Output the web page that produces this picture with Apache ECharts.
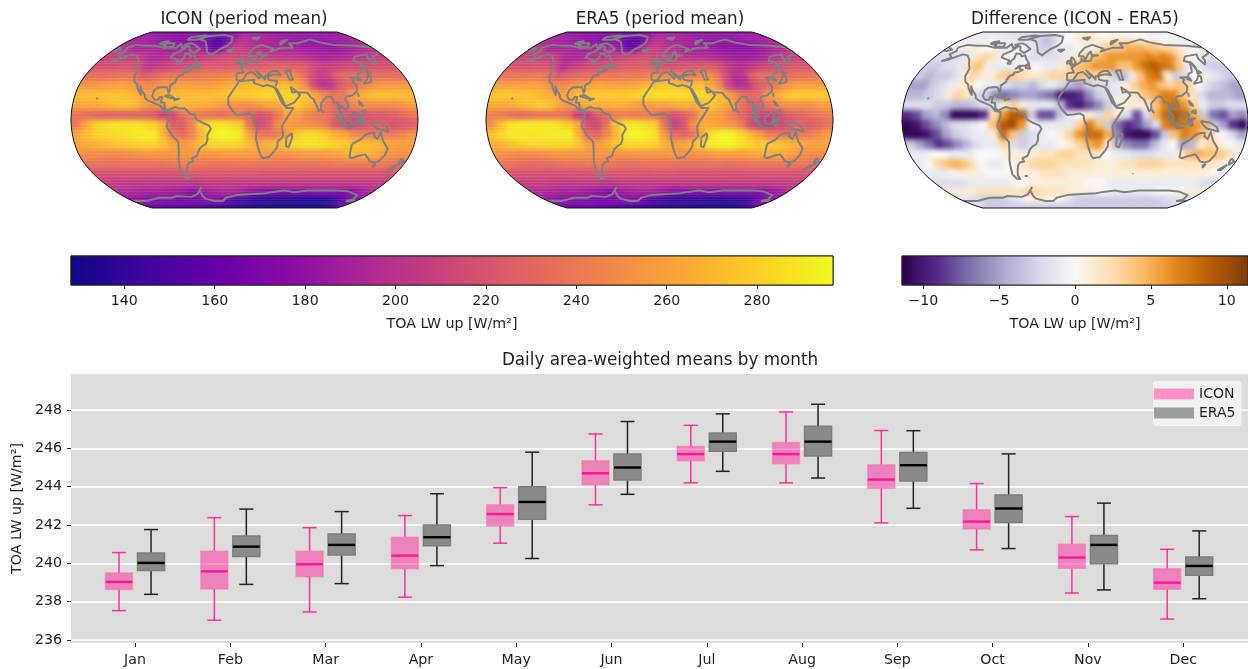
<!DOCTYPE html>
<html><head><meta charset="utf-8"><style>html,body{margin:0;padding:0;background:#fff}#c{width:1248px;height:669px}</style>
<script src="https://cdn.jsdelivr.net/npm/echarts@6/dist/echarts.min.js"></script></head><body><div id="c"></div>
<script>
const lats=[85.5,76.5,67.5,58.5,49.5,40.5,31.5,22.5,13.5,4.5,-4.5,-13.5,-22.5,-31.5,-40.5,-49.5,-58.5,-67.5,-76.5,-85.5];
const lons=[-175,-165,-155,-145,-135,-125,-115,-105,-95,-85,-75,-65,-55,-45,-35,-25,-15,-5,5,15,25,35,45,55,65,75,85,95,105,115,125,135,145,155,165,175];
const iconMean=[
[182,182,180,180,178,178,176,176,174,172,170,168,165,165,170,176,180,184,186,186,186,186,184,184,182,182,182,182,182,182,182,182,182,182,182,182],
[190,188,186,184,180,178,176,174,172,170,168,170,160,148,150,165,190,200,198,194,192,192,190,186,184,182,180,178,178,178,178,180,182,184,186,188],
[198,196,190,188,190,190,188,186,186,190,192,190,180,158,160,190,206,206,200,196,196,192,190,190,188,188,186,184,182,182,180,182,184,188,192,196],
[208,206,206,206,205,198,194,194,196,198,198,202,206,208,212,214,214,214,212,208,206,204,202,202,200,198,194,192,190,192,192,194,198,202,204,206],
[216,216,216,218,218,214,200,204,208,212,215,218,220,222,222,222,224,226,222,222,225,228,228,226,226,222,212,206,208,212,216,214,216,218,218,218],
[234,234,234,236,238,236,222,226,232,236,238,240,240,240,242,244,246,248,250,248,244,244,242,248,240,218,205,208,225,232,232,232,234,234,234,234],
[254,254,256,258,260,258,250,246,252,256,258,260,258,256,258,262,266,268,272,274,272,268,272,265,252,215,200,202,222,232,240,250,254,256,256,255],
[272,272,272,274,275,272,268,258,262,268,270,272,272,272,272,274,276,278,278,280,284,282,284,280,276,262,248,238,240,258,268,272,274,272,272,272],
[262,262,264,268,272,276,272,258,250,256,268,270,268,266,264,258,252,250,250,256,262,262,272,276,268,262,240,232,232,245,250,250,248,248,252,258],
[235,232,228,226,226,226,225,226,224,208,210,232,240,238,235,232,238,236,228,218,222,238,262,258,248,240,236,228,222,218,220,222,222,226,232,236],
[240,262,280,286,288,288,288,286,280,268,226,222,242,275,288,290,284,280,238,214,222,248,258,252,250,248,240,220,212,212,218,224,226,218,220,225],
[262,272,280,282,284,286,290,292,292,270,240,232,244,268,290,296,296,290,262,240,236,240,258,278,286,286,278,268,262,248,244,240,242,240,244,252],
[262,264,268,272,275,278,280,282,282,274,262,255,262,275,282,284,284,282,272,262,268,272,280,285,288,288,285,282,278,274,274,272,268,262,258,260],
[252,250,248,248,248,250,252,254,254,252,254,256,255,254,254,256,256,256,256,258,255,252,252,254,256,256,256,258,262,268,268,268,262,254,252,252],
[236,236,236,236,236,236,236,236,236,238,240,242,240,238,238,238,238,238,238,238,236,236,236,238,238,238,238,238,240,240,240,240,240,240,238,236],
[218,218,218,218,218,218,218,218,218,218,220,222,222,222,222,222,222,222,222,222,220,220,220,220,220,220,220,220,220,220,220,220,220,220,218,218],
[205,205,205,205,204,204,204,204,204,204,204,202,204,206,206,206,206,206,206,206,206,206,206,206,206,206,206,206,206,206,206,206,206,206,205,205],
[196,196,194,192,190,190,190,188,186,184,176,178,188,190,192,194,194,190,182,176,174,172,172,172,172,172,172,174,176,176,174,172,170,178,186,192],
[178,176,172,170,168,166,166,164,164,164,170,172,174,176,170,160,150,145,142,140,138,136,136,135,135,134,132,132,132,132,132,134,140,155,168,176],
[166,164,162,160,160,160,160,158,155,152,150,148,146,145,144,142,140,138,137,136,135,134,134,133,132,132,132,132,132,132,132,134,136,142,152,160]];
const era5Mean=[
[183,183,181,181,179,179,178,178,176,174,172,170,167,167,171,177,180,184,185,185,185,185,184,184,182,182,182,182,182,182,182,183,183,183,183,183],
[191,189,187,185,180,179,177,175,173,172,170,172,163,152,153,166,190,200,197,192,190,191,189,185,182,180,178,177,177,177,177,180,182,184,187,189],
[199,196,189,187,189,190,188,187,187,191,192,191,182,161,163,191,207,207,200,197,196,190,187,186,184,183,181,179,178,178,177,179,182,187,192,197],
[210,208,208,208,206,196,191,192,195,198,199,203,208,210,214,216,215,213,210,205,202,199,196,196,194,192,188,185,184,185,186,191,197,202,205,208],
[219,219,218,220,219,211,196,203,209,213,216,218,219,222,223,223,223,223,218,217,219,222,222,222,222,216,204,197,200,205,212,215,217,220,221,221],
[237,238,237,239,240,235,219,225,231,233,234,237,238,239,240,241,243,245,246,245,241,242,245,252,241,214,198,200,224,235,234,232,233,235,236,237],
[259,259,259,260,261,257,248,246,253,257,260,263,261,260,260,263,268,272,277,277,274,270,273,264,249,210,194,198,219,228,237,250,256,259,260,260],
[276,276,275,276,274,269,266,260,265,274,277,278,277,277,278,281,286,288,287,286,287,284,285,279,274,258,243,231,233,254,266,274,278,276,276,277],
[264,264,266,271,275,280,276,261,252,258,267,267,267,267,265,259,256,259,260,264,268,265,271,275,267,261,236,225,224,239,247,251,251,251,254,260],
[244,240,233,230,232,237,236,237,233,206,204,223,231,241,243,240,241,237,228,217,224,235,261,260,256,242,231,220,213,210,215,225,229,234,237,242],
[251,272,288,292,292,290,290,287,280,264,217,212,236,275,289,291,285,281,235,207,218,251,265,261,258,253,242,213,204,205,212,219,229,223,229,236],
[273,283,290,290,289,289,292,293,293,269,232,228,247,270,291,296,295,287,256,232,228,235,264,288,296,296,286,271,258,241,238,236,240,240,246,257],
[265,269,275,281,283,284,284,284,283,275,259,257,265,277,283,285,284,281,269,257,262,270,284,291,295,295,289,283,278,279,278,271,265,261,258,261],
[253,251,248,248,249,251,253,254,254,252,253,255,254,253,252,254,253,253,254,256,253,252,253,255,258,258,258,259,263,267,264,263,258,250,249,251],
[237,236,233,232,231,232,234,236,237,239,240,241,238,235,235,235,236,236,236,236,235,235,235,236,236,235,235,235,238,238,238,238,238,238,237,236],
[219,219,219,218,217,217,217,218,218,218,220,221,221,221,220,220,220,221,221,221,219,219,219,219,219,219,219,219,219,219,219,219,219,219,218,219],
[207,207,207,207,205,205,205,205,205,205,204,202,203,205,205,205,205,205,205,206,206,206,207,207,207,207,207,207,207,207,207,207,207,207,207,207],
[195,195,193,191,188,188,188,186,184,182,174,175,185,188,190,192,192,189,181,175,173,172,172,173,173,173,173,175,177,176,174,172,169,177,185,191],
[180,178,174,173,171,169,169,166,166,165,170,171,173,175,170,160,151,147,145,143,141,139,139,138,138,137,135,135,135,135,135,137,142,157,170,178],
[168,166,165,163,163,163,163,161,158,155,153,151,149,148,147,145,143,141,140,139,138,137,137,136,135,135,135,135,135,135,135,137,139,145,155,162]];
const diffMean=[
[-1,-1,-1,-1,-1,-1,-2,-2,-2,-2,-2,-2,-2,-2,-1,-1,0,0,1,1,1,1,0,0,0,0,0,0,0,0,0,-1,-1,-1,-1,-1],
[-1,-1,-1,-1,0,-1,-1,-1,-1,-2,-2,-2,-3,-4,-3,-1,0,0,1,2,2,1,1,1,2,2,2,1,1,1,1,0,0,0,-1,-1],
[-1,0,1,1,1,0,0,-1,-1,-1,0,-1,-2,-3,-3,-1,-1,-1,0,-1,0,2,3,4,4,5,5,5,4,4,3,3,2,1,0,-1],
[-2,-2,-2,-2,-1,2,3,2,1,0,-1,-1,-2,-2,-2,-2,-1,1,2,3,4,5,6,6,6,6,6,7,6,7,6,3,1,0,-1,-2],
[-3,-3,-2,-2,-1,3,4,1,-1,-1,-1,0,1,0,-1,-1,1,3,4,5,6,6,6,4,4,6,8,9,8,7,4,-1,-1,-2,-3,-3],
[-3,-4,-3,-3,-2,1,3,1,1,3,4,3,2,1,2,3,3,3,4,3,3,2,-3,-4,-1,4,7,8,1,-3,-2,0,1,-1,-2,-3],
[-5,-5,-3,-2,-1,1,2,0,-1,-1,-2,-3,-3,-4,-2,-1,-2,-4,-5,-3,-2,-2,-1,1,3,5,6,4,3,4,3,0,-2,-3,-4,-5],
[-4,-4,-3,-2,1,3,2,-2,-3,-6,-7,-6,-5,-5,-6,-7,-10,-10,-9,-6,-3,-2,-1,1,2,4,5,7,7,4,2,-2,-4,-4,-4,-5],
[-2,-2,-2,-3,-3,-4,-4,-3,-2,-2,1,3,1,-1,-1,-1,-4,-9,-10,-8,-6,-3,1,1,1,1,4,7,8,6,3,-1,-3,-3,-2,-2],
[-9,-8,-5,-4,-6,-11,-11,-11,-9,2,6,9,9,-3,-8,-8,-3,-1,0,1,-2,3,1,-2,-8,-2,5,8,9,8,5,-3,-7,-8,-5,-6],
[-11,-10,-8,-6,-4,-2,-2,-1,0,4,9,10,6,0,-1,-1,-1,-1,3,7,4,-3,-7,-9,-8,-5,-2,7,8,7,6,5,-3,-5,-9,-11],
[-11,-11,-10,-8,-5,-3,-2,-1,-1,1,8,4,-3,-2,-1,0,1,3,6,8,8,5,-6,-10,-11,-11,-8,-3,4,7,6,4,2,0,-2,-5],
[-3,-5,-7,-9,-8,-6,-4,-2,-1,-1,3,-2,-3,-2,-1,-1,0,1,3,5,6,2,-4,-6,-7,-7,-4,-1,0,-5,-4,1,3,1,0,-1],
[-1,-1,0,0,-1,-1,-1,0,0,0,1,1,1,1,2,2,3,3,2,2,2,0,-1,-1,-2,-2,-2,-1,-1,1,4,5,4,4,3,1],
[-1,0,3,4,5,4,2,0,-1,-1,0,1,2,3,3,3,2,2,2,2,1,1,1,2,2,3,3,3,2,2,2,2,2,2,1,0],
[-1,-1,-1,0,1,1,1,0,0,0,0,1,1,1,2,2,2,1,1,1,1,1,1,1,1,1,1,1,1,1,1,1,1,1,0,-1],
[-2,-2,-2,-2,-1,-1,-1,-1,-1,-1,0,0,1,1,1,1,1,1,1,0,0,0,-1,-1,-1,-1,-1,-1,-1,-1,-1,-1,-1,-1,-2,-2],
[1,1,1,1,2,2,2,2,2,2,2,3,3,2,2,2,2,1,1,1,1,0,0,-1,-1,-1,-1,-1,-1,0,0,0,1,1,1,1],
[-2,-2,-2,-3,-3,-3,-3,-2,-2,-1,0,1,1,1,0,0,-1,-2,-3,-3,-3,-3,-3,-3,-3,-3,-3,-3,-3,-3,-3,-3,-2,-2,-2,-2],
[-2,-2,-3,-3,-3,-3,-3,-3,-3,-3,-3,-3,-3,-3,-3,-3,-3,-3,-3,-3,-3,-3,-3,-3,-3,-3,-3,-3,-3,-3,-3,-3,-3,-3,-3,-2]];
const streakLats=[84,80,77,74,71,68,66,63,60,57,54,52,49,46,43,41,38,35,32,30,27,24,21,18,15,12,9,6,3,-1,-4,-7,-10,-13,-16,-19,-22,-25,-28,-31,-34,-37,-40,-43,-46,-49,-52,-55,-58,-61,-64,-67,-70,-73,-76,-79,-82];
const coastlines=[
[[-166,68],[-157,71],[-141,70],[-128,70],[-115,68],[-108,68],[-96,68],[-94,72],[-88,68],[-82,69],[-81,67],[-87,64],[-94,61],[-94,58],[-88,56.5],[-82,55],[-82,52],[-79,51.5],[-79,55],[-77,57],[-78,62],[-72,61.5],[-69,59],[-65,60],[-62,57],[-56,52],[-60,50],[-66,50],[-70,47],[-65,49],[-65,47],[-61,46],[-66,44],[-70,43.5],[-70,41.5],[-74,40.5],[-76,37],[-76,35],[-81,31.5],[-80,27],[-81,25],[-82.5,28],[-84,30],[-89,30],[-94,29.5],[-97,27],[-98,22],[-95,18.5],[-91,18.5],[-90,21],[-87,21],[-88,16],[-84,15.5],[-83.5,11],[-81,9],[-78,9.5],[-75,11],[-72,12],[-68,10.5],[-62,10.5],[-57,6],[-52,5],[-50,0.5],[-44,-2.5],[-37,-5],[-35,-8],[-39,-14],[-39,-18],[-41,-22],[-45,-24],[-48.5,-27],[-52,-33],[-58,-35],[-57,-38],[-62,-39],[-65,-42],[-67,-46],[-69,-51],[-68,-54.5],[-72,-54],[-75,-50],[-74,-43],[-73,-37],[-71,-30],[-70,-20],[-76,-14],[-81,-6],[-80,-2],[-78,2],[-77.5,7],[-80,8],[-83,8],[-86,11],[-88,13],[-92,14.5],[-96,16],[-102,18],[-105,20],[-106,23],[-110,27],[-113,31],[-114.5,30],[-110,23],[-112,25],[-115,29],[-117,32.5],[-121,35],[-124,40],[-124,47],[-128,51],[-133,56],[-140,60],[-147,61],[-152,59],[-158,56],[-165,54.5],[-158,58],[-165,61],[-161,64.5],[-166,66],[-166,68]],
[[-73,78],[-60,82],[-35,83.5],[-20,81],[-20,74],[-25,70],[-35,66],[-43,60],[-50,63],[-54,69],[-60,75],[-73,78]],
[[-80,73],[-72,71],[-62,66.5],[-68,62.5],[-75,65],[-78,69],[-88,71],[-80,73]],
[[-117,73],[-105,73],[-102,69],[-115,69],[-117,73]],
[[-90,80],[-70,83],[-62,82],[-76,77],[-90,77],[-90,80]],
[[-125,74],[-117,75],[-120,71.5],[-125,72],[-125,74]],
[[-59,48],[-56,51.5],[-53,47],[-59,48]],
[[-85,22],[-80,23],[-74,20],[-78,20],[-85,22]],
[[-74,19],[-69,19.5],[-69,18],[-74,18],[-74,19]],
[[-24,65.5],[-15,66],[-14,64.5],[-19,63.5],[-24,65.5]],
[[-9,43],[-1,43.5],[-4,48],[2,51],[8,54],[8,57],[11,54],[20,55],[22,59],[30,60],[22,60],[21,64],[24,66],[17,61],[18,59],[13,55.5],[11,59],[5,59],[6,62],[14,68],[25,71],[40,67],[35,64],[44,66],[54,68],[68,68],[67,73],[80,73],[105,77.5],[113,74],[130,71],[160,70],[180,68.5]],
[[-180,68.5],[-170,66],[-175,64.5],[-180,65]],
[[180,65],[177,62],[170,60],[163,58],[162,55],[157,51],[156,57],[160,61],[155,59],[142,59],[135,54.5],[141,53],[135,44],[130,42.5],[127.5,39.5],[129,36],[126.5,34.5],[126,37],[125,39.5],[121,39],[118,39],[122,37],[119,35],[122,31],[120,26],[114,22.5],[108,21.5],[106,19],[109,13],[105,9],[100,13.5],[99,9],[103,2],[101,3],[98,8],[98,16],[94,16],[92,21],[87,21.5],[80,15],[80,10],[77.5,8],[73,19],[70,21],[67,25],[57,25.5],[56.5,27],[50,30],[48,29.5],[51,25],[52,24],[56,26],[59,22.5],[52,16],[43,12.5],[39,21],[35,28],[32.5,30]],
[[34,31],[36,36],[32,36],[27,37],[26,40],[29,41],[35,42],[41,41],[38,45],[33,45],[31,46],[28,43],[26,40.5],[23,40],[23,37],[19,41],[13,45.5],[18,40],[16,38],[12,42],[9,44],[3,43],[0,39],[-2,37],[-6,36],[-9,37],[-9,43]],
[[32.5,30],[32,31],[25,32],[20,31],[19,30.5],[10,34],[11,37],[0,36],[-6,35.5],[-10,30],[-17,21],[-17,14.5],[-13,9],[-8,4.5],[-2,5],[5,6],[9,4],[9.5,0],[13,-6],[12,-17],[15,-27],[18,-33],[20,-35],[27,-34],[32.5,-28],[35,-24],[35,-20],[40.5,-15],[39,-6],[42,-1],[51,11],[44,11],[43,12.5],[39,16],[35.5,24],[33.5,28],[32.5,30]],
[[47,45],[53,46],[53,40],[54,37],[50,37],[49,41],[47,45]],
[[-5,58.5],[-2,57],[1,52.5],[1,51],[-5,50],[-4,53],[-5,58.5]],
[[-10,54],[-6,55],[-6,52],[-10,52],[-10,54]],
[[49.5,-12],[50,-16],[47,-25],[44,-24],[44,-16],[49.5,-12]],
[[80,9.5],[82,7],[80.5,6],[80,9.5]],
[[130,33],[135,34],[140,35],[142,40],[140,41],[136,37],[131,34],[130,33]],
[[140,42],[145,43.5],[142,45.5],[140,42]],
[[142,54],[143,49],[142,46],[142,54]],
[[121,25],[121,22],[120,23.5],[121,25]],
[[120,18],[122,18],[124,13],[121,14],[120,18]],
[[122,8],[126,9],[126,6],[122,7],[122,8]],
[[95,5.5],[104,-2],[106,-6],[101,-3],[95,5.5]],
[[105,-6.5],[114,-7],[114,-8.5],[106,-7.5],[105,-6.5]],
[[109,2],[116,7],[119,5],[118,1],[116,-4],[110,-3],[109,2]],
[[120,1],[125,1.5],[121,-1],[123,-5],[120,-5.5],[119,-2],[120,1]],
[[131,-1],[141,-2.5],[148,-6.5],[150,-10.5],[143,-9],[138,-8],[133,-4],[131,-1]],
[[114,-22],[122,-18],[126,-14],[131,-12],[136,-12],[136,-15],[140,-17.5],[142,-11],[146,-19],[153,-26],[153,-32],[150,-37.5],[146,-39],[140,-38],[136,-35],[131,-31.5],[124,-33],[118,-35],[115,-34],[114,-27],[114,-22]],
[[145,-41],[148,-41],[147,-43.5],[145,-41]],
[[173,-35],[178,-38],[175,-41],[173,-39],[173,-35]],
[[173,-41],[174,-42],[170,-46],[167,-46],[173,-41]],
[[12,79],[25,80],[20,77],[12,79]],
[[52,71],[68,77],[56,75],[52,71]],
[[-156,20.5],[-155,19],[-156,19],[-156,20.5]],
[[-61,-51.5],[-58,-51.5],[-60,-52.5],[-61,-51.5]],
[[69,-49],[70,-49.5],[69,-49.8],[69,-49]],
[[-180,-78],[-158,-78],[-150,-76],[-130,-74],[-110,-74],[-100,-72],[-80,-73],[-68,-70],[-58,-63],[-62,-66],[-62,-72],[-60,-75],[-48,-78],[-35,-78],[-28,-74],[-12,-71],[5,-70],[30,-69],[40,-67.5],[55,-66],[70,-68],[88,-66],[110,-66],[130,-66],[145,-67],[165,-71],[170,-76],[165,-78],[180,-78]]];
const months=['Jan','Feb','Mar','Apr','May','Jun','Jul','Aug','Sep','Oct','Nov','Dec'];
const monthPos=[1,2,3,4,5,6,7,8,9,10,11,12];
const iconLow=[237.53,237.03,237.46,238.23,241.05,243.05,244.2,244.2,242.11,240.7,238.45,237.09];
const iconQ1=[238.63,238.66,239.3,239.72,241.95,244.1,245.35,245.2,243.92,241.79,239.74,238.64];
const iconMed=[239.03,239.58,239.95,240.4,242.57,244.7,245.7,245.7,244.37,242.18,240.3,238.99];
const iconQ3=[239.5,240.63,240.63,241.36,243.05,245.35,246.1,246.3,245.14,242.79,240.99,239.72];
const iconHigh=[240.56,242.38,241.86,242.49,243.95,246.75,247.2,247.9,246.93,244.16,242.44,240.73];
const eraLow=[238.38,238.9,238.94,239.88,240.25,243.6,244.8,244.45,242.87,240.77,238.61,238.15];
const eraQ1=[239.63,240.35,240.43,240.92,242.3,244.35,245.85,245.6,244.3,242.13,239.98,239.37];
const eraMed=[240.02,240.87,240.96,241.36,243.2,245,246.35,246.35,245.12,242.86,240.96,239.86];
const eraQ3=[240.54,241.43,241.53,242,244,245.7,246.8,247.15,245.78,243.57,241.45,240.33];
const eraHigh=[241.76,242.83,242.7,243.63,245.8,247.4,247.8,248.3,246.92,245.71,243.14,241.69];
const meanTicks=[140,160,180,200,220,240,260,280];
const diffTicks=[-10,-5,0,5,10];
const boxTicks=[236,238,240,242,244,246,248];
const meanRange=[128.2,296.8], diffRange=[-11.4,11.4];
const plasma=['#0d0887','#41049d','#6a00a8','#8f0da4','#b12a90','#cc4778','#e16462','#f1844b','#fca636','#fcce25','#f0f921'];
const puor=['#2d004b','#542788','#8073ac','#b2abd2','#d8daeb','#f7f7f7','#fee0b6','#fdb863','#e08214','#b35806','#7f3b08'];

const PLEN=[1,.9986,.9954,.99,.9822,.973,.96,.9427,.9216,.8962,.8679,.835,.7986,.7597,.7186,.6732,.6213,.5722,.5322];
const PDFE=[0,.062,.124,.186,.248,.31,.372,.434,.4958,.5571,.6176,.6769,.7346,.7903,.8435,.8936,.9394,.9761,1];
function proj(lon,lat){
  const a=Math.min(Math.abs(lat),90)/5,i=Math.min(Math.floor(a),17),f=a-i;
  const L=PLEN[i]+(PLEN[i+1]-PLEN[i])*f,D=PDFE[i]+(PDFE[i+1]-PDFE[i])*f;
  return [L*lon/180,(lat<0?-1:1)*D];
}
const TXT='#1f1f1f',FONT='DejaVu Sans',ZL=1;
const mapGrids=[{left:71,top:32,width:347,height:176,zlevel:ZL},{left:486,top:32,width:347,height:176,zlevel:ZL},{left:902,top:32,width:346,height:176,zlevel:ZL}];
const grids=[...mapGrids,
 {left:71,top:256,width:762,height:29,zlevel:ZL,show:true,borderColor:'#111',borderWidth:1,backgroundColor:'transparent'},
 {left:902,top:256,width:346,height:29,zlevel:ZL,show:true,borderColor:'#333',borderWidth:1,backgroundColor:'transparent'},
 {left:71,top:374,width:1177,height:269,zlevel:ZL,show:true,backgroundColor:'#dcdcdc',borderWidth:0}];
const hid=i=>({type:'value',gridIndex:i,min:-1,max:1,show:false,zlevel:ZL});
const lab={color:TXT,fontFamily:FONT,fontSize:14.2};
function barAxis(i,r,t){return {type:'value',gridIndex:i,zlevel:ZL,min:r[0],max:r[1],axisLine:{show:false},splitLine:{show:false},
 axisTick:{show:true,length:4,customValues:t,lineStyle:{color:'#222'}},
 axisLabel:Object.assign({customValues:t,margin:9,formatter:v=>String(v).replace('-','\u2212')},lab),
 name:'TOA LW up [W/m\u00b2]',nameLocation:'middle',nameGap:32,nameTextStyle:lab};}
const xAxes=[hid(0),hid(1),hid(2),barAxis(3,meanRange,meanTicks),barAxis(4,diffRange,diffTicks),
 {type:'value',gridIndex:5,zlevel:ZL,min:0.328,max:12.68,axisLine:{show:false},splitLine:{show:false},
  axisTick:{show:true,length:4,customValues:monthPos,lineStyle:{color:'#222'}},
  axisLabel:Object.assign({customValues:monthPos,margin:10,formatter:v=>months[v-1]},lab)}];
const yAxes=[hid(0),hid(1),hid(2),
 {type:'value',gridIndex:3,min:0,max:1,show:false,zlevel:ZL},{type:'value',gridIndex:4,min:0,max:1,show:false,zlevel:ZL},
 {type:'value',gridIndex:5,zlevel:ZL,min:235.84,max:249.88,axisLine:{show:false},
  splitLine:{show:true,lineStyle:{color:'#fff',width:1.5}},
  axisTick:{show:true,length:4,customValues:boxTicks,lineStyle:{color:'#222'}},
  axisLabel:Object.assign({customValues:boxTicks,margin:9},lab),
  name:'TOA LW up [W/m\u00b2]',nameLocation:'middle',nameGap:43,nameTextStyle:lab}];

function cellSeries(g,field){
  const data=[];
  field.forEach((row,j)=>row.forEach((v,i)=>data.push([lons[i],lats[j],v])));
  return {type:'custom',xAxisIndex:g,yAxisIndex:g,zlevel:0,z:1,clip:false,silent:true,animation:false,progressive:0,data,
   encode:{x:0,y:1},
   renderItem(p,api){
    const lo=api.value(0),la=api.value(1),c=api.visual('color');
    let l0=lo-5.3,l1=lo+5.3; if(lo===-175)l0=-196; if(lo===175)l1=196;
    const a=la+4.7,b=la-4.7;
    const pts=[[l0,a],[l1,a],[l1,b],[l0,b]].map(q=>{const r=proj(q[0],q[1]);
      if(Math.abs(q[1])>89)r[1]*=1.09; return api.coord(r);});
    return {type:'polygon',shape:{points:pts},style:{fill:c}};
   }};
}
const rim=[];
for(let a=90;a>=-90;a-=5)rim.push(proj(180,a));
for(let a=-90;a<=90;a+=5)rim.push(proj(-180,a));
rim.push(rim[0]);
function maskSeries(g){
  return {type:'custom',xAxisIndex:g,yAxisIndex:g,zlevel:ZL,z:2,clip:false,silent:true,animation:false,data:[[0,0]],encode:{x:0,y:1},
   renderItem(p,api){
    const X=1.19,Y=1.24;
    const out=[[-X,Y],[X,Y],[X,-Y],[-X,-Y],[-X,Y]];
    const pts=out.concat(rim.slice().reverse()).concat([[-X,Y]]).map(q=>api.coord(q));
    return {type:'polygon',shape:{points:pts},style:{fill:'#fff'}};
   }};
}
const coastPts=[];
coastlines.forEach(seg=>{seg.forEach(q=>coastPts.push(proj(q[0],q[1])));coastPts.push([null,null]);});
const streakPts=[];
streakLats.forEach(a=>{streakPts.push(proj(-180,a),proj(180,a),[null,null]);});
function lineSeries(g,data,color,width,z){
  return {type:'line',xAxisIndex:g,yAxisIndex:g,zlevel:ZL,z,data,symbol:'none',silent:true,animation:false,clip:false,connectNulls:false,
   lineStyle:{color,width,join:'round'}};
}
function cbarSeries(g,r,cols){
  return {type:'custom',xAxisIndex:g,yAxisIndex:g,zlevel:ZL,z:2,silent:true,animation:false,data:[[r[0],r[1]]],encode:{x:[0,1]},
   renderItem(p,api){
    const a=api.coord([api.value(0),0]),b=api.coord([api.value(1),1]);
    return {type:'rect',shape:{x:a[0],y:b[1],width:b[0]-a[0],height:a[1]-b[1]},
     style:{stroke:'#222',lineWidth:1,fill:new echarts.graphic.LinearGradient(0,0,1,0,cols.map((c,i)=>({offset:i/(cols.length-1),color:c})))}};
   }};
}
function boxSeries(name,off,fill,edge,whisk,med,legendColor,lo,q1,m,q3,hi){
  return {name,type:'custom',xAxisIndex:5,yAxisIndex:5,zlevel:ZL,z:5,clip:true,animation:false,silent:true,itemStyle:{color:legendColor},
   data:monthPos.map((x,i)=>[x,lo[i],q1[i],m[i],q3[i],hi[i]]),encode:{x:0,y:[1,2,3,4,5]},
   renderItem(p,api){
    const x=api.value(0)+off,w=.1415,cap=.0735,P=(a,b)=>api.coord([a,b]);
    const L=(a,b,c,d,col,lw)=>{const s=P(a,b),t=P(c,d);return {type:'line',shape:{x1:s[0],y1:s[1],x2:t[0],y2:t[1]},style:{stroke:col,lineWidth:lw}};};
    const v=[1,2,3,4,5].map(k=>api.value(k));
    const tl=P(x-w,v[3]),br=P(x+w,v[1]);
    return {type:'group',children:[
     L(x,v[0],x,v[1],whisk,1.5),L(x,v[3],x,v[4],whisk,1.5),
     L(x-cap,v[0],x+cap,v[0],whisk,1.5),L(x-cap,v[4],x+cap,v[4],whisk,1.5),
     {type:'rect',shape:{x:tl[0],y:tl[1],width:br[0]-tl[0],height:br[1]-tl[1]},style:{fill,stroke:edge,lineWidth:1.5}},
     L(x-w,v[2],x+w,v[2],med,2.4)]};
   }};
}
const series=[];
[[0,iconMean],[1,era5Mean],[2,diffMean]].forEach(([g,f])=>{
  series.push(cellSeries(g,f),maskSeries(g));
  if(g<2)series.push(lineSeries(g,streakPts,'rgba(255,255,255,0.13)',0.8,2.5));
  series.push(lineSeries(g,coastPts,'#808080',2,3),lineSeries(g,rim,'#111',1,4));
});
series.push(cbarSeries(3,meanRange,plasma),cbarSeries(4,diffRange,puor));
series.push(boxSeries('ICON',-.168,'rgba(255,20,147,0.45)','rgba(255,105,180,0.55)','rgba(255,20,147,0.85)','#ff1493','#ff90c8',iconLow,iconQ1,iconMed,iconQ3,iconHigh));
series.push(boxSeries('ERA5',.168,'#8a8a8a','#7d7d7d','#222','#000','#9e9e9e',eraLow,eraQ1,eraMed,eraQ3,eraHigh));
const ttl=(text,x,y)=>({text,left:x,top:y,textAlign:'center',zlevel:ZL,textStyle:{color:TXT,fontFamily:FONT,fontSize:16.8,fontWeight:'normal'},z:20,padding:0});
const chart=echarts.init(document.getElementById('c'),null,{renderer:'canvas'});
chart.setOption({animation:false,
 title:[ttl('ICON (period mean)',244,11),ttl('ERA5 (period mean)',660,11),ttl('Difference (ICON - ERA5)',1075,11),ttl('Daily area-weighted means by month',660,352)],
 grid:grids,xAxis:xAxes,yAxis:yAxes,
 visualMap:[
  {type:'continuous',show:false,dimension:2,seriesIndex:[0,5],min:meanRange[0],max:meanRange[1],inRange:{color:plasma}},
  {type:'continuous',show:false,dimension:2,seriesIndex:[10],min:diffRange[0],max:diffRange[1],inRange:{color:puor}}],
 legend:{data:['ICON','ERA5'],orient:'vertical',left:1153,top:381,zlevel:ZL,padding:[6,6,6,1],itemGap:5,itemWidth:40,itemHeight:11,icon:'rect',selectedMode:false,
  backgroundColor:'rgba(245,245,245,0.85)',borderRadius:3,itemStyle:{borderWidth:0},textStyle:{color:TXT,fontFamily:FONT,fontSize:14},z:20},
 series});
// the smooth look of the gridded fields: soften only the layer that holds the map cells
document.querySelectorAll('#c canvas').forEach((cv,i)=>{ if(i===0) cv.style.filter='blur(2.8px)'; });
</script></body></html>
